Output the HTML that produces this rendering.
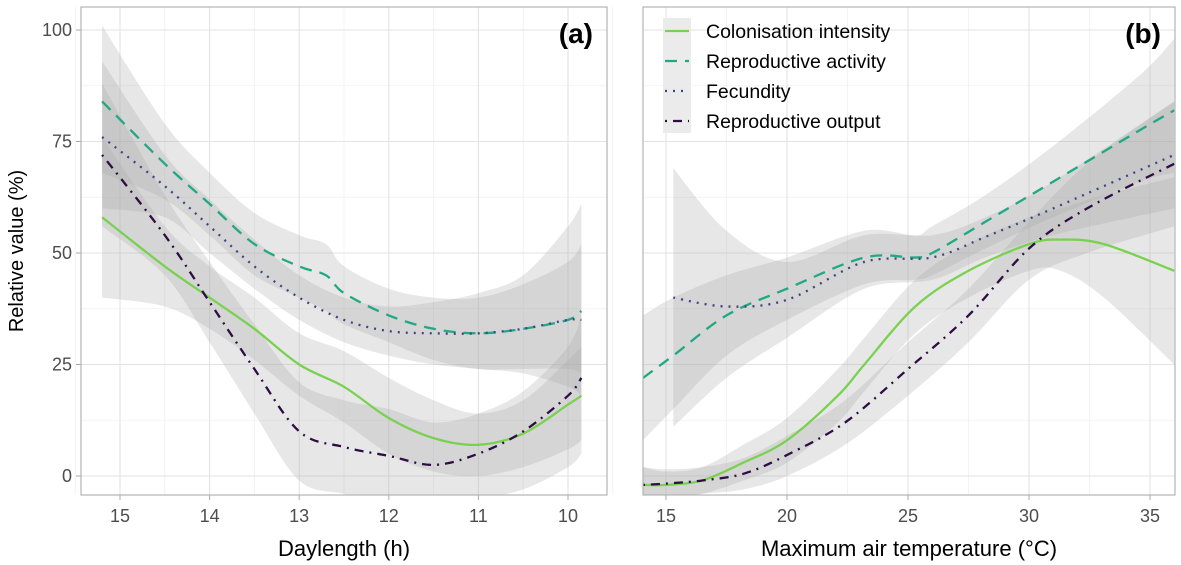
<!DOCTYPE html>
<html><head><meta charset="utf-8">
<style>
html,body{margin:0;padding:0;background:#fff;}
svg{display:block;font-family:"Liberation Sans",Arial,sans-serif;}
</style></head>
<body>
<svg id="chart" width="1181" height="565" viewBox="0 0 1181 565" xmlns="http://www.w3.org/2000/svg"></svg>
<script>
// ---- Data ----
const yTicks = [0, 25, 50, 75, 100];
const aTicks = [15, 14, 13, 12, 11, 10];
const bTicks = [15, 20, 25, 30, 35];
const seriesNames = ["Colonisation intensity", "Reproductive activity", "Fecundity", "Reproductive output"];

// Panel (a): daylength (h)
const aColX = [15.2,14.5,14,13.5,13,12.5,12,11.5,11,10.5,10,9.85];
const aColY = [58,47,40,33,25,20,13,8.5,7,9.5,16,18];
const aColLo = [40,38,33,26,18,12,5,1,0,2,6,8];
const aColHi = [76,56,47,40,32,28,22,17,14,17,26,29];
const aActX = [15.2,14.5,14,13.5,13,12.7,12.5,12,11.5,11,10.5,10,9.85];
const aActY = [84,70,61,52,47,45,41,36,33,32,33,35,37];
const aActLo = [68,62,54,45,40,37,34,30,26,24,24,24,23];
const aActHi = [101,79,68,59,54,52,47,42,40,40,43,48,52];
const aFecX = [15.2,14.5,14,13.5,13,12.5,12,11.5,11,10.5,10,9.85];
const aFecY = [76,65,56,47,40,35,32.5,32,32,33,35,35];
const aFecLo = [60,58,50,42,35,30,27,25,24,23,20,18];
const aFecHi = [93,72,62,53,45,40,38,39,41,45,56,61];
const aOutX = [15.2,14.5,14,13.5,13,12.5,12,11.5,11,10.5,10,9.85];
const aOutY = [72,54,39,24,10,6.5,4.5,2.5,5,10,18,22];
const aOutLo = [56,45,30,14,-1,-4,-6,-6,-5,-3,2,5];
const aOutHi = [88,63,48,34,21,17,15,12,14,19,29,36];

// Panel (b): max air temperature (°C)
const bColX = [14.05,15,16.5,18.2,20,22.1,23.2,25.3,27.5,30,31.3,33.1,36];
const bColY = [-2,-2,-1,3,8,18,25,38,46,52,53,52,46];
const bColLo = [-6,-5,-4,-1,3,12,19,32,40,46,46,40,25];
const bColHi = [2,1,2,7,13,24,31,44,52,58,60,63,67];
const bActX = [14.05,15.3,17.5,20,23.2,25.3,26,28.2,31,34.6,36];
const bActY = [22,27,36,42,49,49,50,57,66,77.6,82];
const bActLo = [8,15,27,35,43,44,45,51,58,66,68];
const bActHi = [36,40,45,49,55,54,56,63,74,90,98];
const bFecX = [15.3,17.5,20,23.2,26,28.2,31,36];
const bFecY = [40,38,39.5,48,49,53.6,60,72];
const bFecLo = [11,22,31,42,44,49,54,60];
const bFecHi = [69,55,48,54,54,58,66,84];
const bOutX = [14.05,15,16.5,18.2,20,22.4,25,27.5,30,32.4,36];
const bOutY = [-2,-1.7,-1,0.5,4.7,12,24,36,51,60,70];
const bOutLo = [-6,-5,-4,-3,0,7,18,30,44,50,56];
const bOutHi = [2,1.5,2,4,9,17,30,42,57,70,84];

// ---- Layout ----
const NS = "http://www.w3.org/2000/svg";
const svg = document.getElementById("chart");
const TOP = 7, BOT = 495;
const yScale = v => 476 - v * 4.46;
const panelA = {x0:81, x1:607, sx: h => 120 + (15 - h) * 89.6};
const panelB = {x0:643, x1:1175, sx: t => 666 + (t - 15) * 24.2};
const styles = [
  {c:"#7AD151", d:""},
  {c:"#22A884", d:"12 8"},
  {c:"#414487", d:"2 6"},
  {c:"#2e0d44", d:"2 6 9 6"}
];

function el(tag, attrs, parent){
  const e = document.createElementNS(NS, tag);
  for (const k in attrs) e.setAttribute(k, attrs[k]);
  (parent || svg).appendChild(e);
  return e;
}
function smoothPath(pts){
  let d = "M" + pts[0][0].toFixed(1) + "," + pts[0][1].toFixed(1);
  for (let i = 0; i < pts.length - 1; i++){
    const p0 = pts[Math.max(0,i-1)], p1 = pts[i], p2 = pts[i+1], p3 = pts[Math.min(pts.length-1,i+2)];
    const c1x = p1[0] + (p2[0]-p0[0])/6, c1y = p1[1] + (p2[1]-p0[1])/6;
    const c2x = p2[0] - (p3[0]-p1[0])/6, c2y = p2[1] - (p3[1]-p1[1])/6;
    d += " C" + c1x.toFixed(1)+","+c1y.toFixed(1)+" "+c2x.toFixed(1)+","+c2y.toFixed(1)+" "+p2[0].toFixed(1)+","+p2[1].toFixed(1);
  }
  return d;
}
function clipFor(id, p){
  const cp = el("clipPath", {id:id});
  el("rect", {x:p.x0, y:TOP, width:p.x1-p.x0, height:BOT-TOP}, cp);
}

function drawPanel(p, ticks, minorTicks, series, label, xTitle, key){
  clipFor("clip-"+key, p);
  const g = el("g", {});
  
  
  [12.5,37.5,62.5,87.5].forEach(v => {
    const l = el("line", {x1:p.x0, x2:p.x1, y1:yScale(v), y2:yScale(v), stroke:"#f0f0f0", "stroke-width":0.8}, g);
    
    
  });
  minorTicks.forEach(v => {
    const l = el("line", {x1:p.sx(v), x2:p.sx(v), y1:TOP, y2:BOT, stroke:"#f0f0f0", "stroke-width":0.8}, g);
    
    
  });
  yTicks.forEach(v => {
    const l = el("line", {x1:p.x0, x2:p.x1, y1:yScale(v), y2:yScale(v), stroke:"#e3e3e3", "stroke-width":1.1}, g);
    
    
  });
  ticks.forEach(v => {
    const l = el("line", {x1:p.sx(v), x2:p.sx(v), y1:TOP, y2:BOT, stroke:"#e3e3e3", "stroke-width":1.1}, g);
    
    
    const t = el("line", {x1:p.sx(v), x2:p.sx(v), y1:BOT, y2:BOT+5, stroke:"#aaa", "stroke-width":1}, g);
    
    
    const tx = el("text", {x:p.sx(v), y:BOT+27, "text-anchor":"middle", "font-size":"18", fill:"#4d4d4d"}, g);
    tx.textContent = v;
    
    
  });
  const cg = el("g", {"clip-path":"url(#clip-"+key+")"}, g);
  series.forEach((s, i) => {
    const up = s.x.map((x,j) => [p.sx(x), yScale(s.hi[j])]);
    const lo = s.x.map((x,j) => [p.sx(x), yScale(s.lo[j])]).reverse();
    let d = smoothPath(up) + " L" + smoothPath(lo).slice(1) + " Z";
    const r = el("path", {d:d, fill:"#a8a8a8", "fill-opacity":0.28, stroke:"none"}, cg);
    
    
  });
  series.forEach((s, i) => {
    const pts = s.x.map((x,j) => [p.sx(x), yScale(s.y[j])]);
    const attrs = {d:smoothPath(pts), fill:"none", stroke:styles[i].c, "stroke-width":2.3};
    if (styles[i].d) attrs["stroke-dasharray"] = styles[i].d;
    const l = el("path", attrs, cg);
    
    
  });
  const b = el("rect", {x:p.x0, y:TOP, width:p.x1-p.x0, height:BOT-TOP, fill:"none", stroke:"#b3b3b3", "stroke-width":1.2}, g);
  
  
  const lb = el("text", {x:p.x1-14, y:43, "text-anchor":"end", "font-size":"28", "font-weight":"bold", fill:"#000"}, g);
  lb.textContent = label;
  
  
  const xt = el("text", {x:(p.x0+p.x1)/2, y:556, "text-anchor":"middle", "font-size":"22", fill:"#000"}, g);
  xt.textContent = xTitle;
  
  
}

drawPanel(panelA, aTicks, [15.5,14.5,13.5,12.5,11.5,10.5,9.5], [
  {name:"colonisation", x:aColX, y:aColY, lo:aColLo, hi:aColHi},
  {name:"activity", x:aActX, y:aActY, lo:aActLo, hi:aActHi},
  {name:"fecundity", x:aFecX, y:aFecY, lo:aFecLo, hi:aFecHi},
  {name:"output", x:aOutX, y:aOutY, lo:aOutLo, hi:aOutHi}
], "(a)", "Daylength (h)", "a");

drawPanel(panelB, bTicks, [17.5,22.5,27.5,32.5], [
  {name:"colonisation", x:bColX, y:bColY, lo:bColLo, hi:bColHi},
  {name:"activity", x:bActX, y:bActY, lo:bActLo, hi:bActHi},
  {name:"fecundity", x:bFecX, y:bFecY, lo:bFecLo, hi:bFecHi},
  {name:"output", x:bOutX, y:bOutY, lo:bOutLo, hi:bOutHi}
], "(b)", "Maximum air temperature (°C)", "b");

yTicks.forEach(v => {
  const t = el("line", {x1:76, x2:81, y1:yScale(v), y2:yScale(v), stroke:"#aaa", "stroke-width":1});
  
  
  const tx = el("text", {x:72, y:yScale(v)+6, "text-anchor":"end", "font-size":"18", fill:"#4d4d4d"});
  tx.textContent = v;
  
  
});
const yt = el("text", {x:0, y:0, transform:"translate(23,251) rotate(-90)", "text-anchor":"middle", "font-size":"20", fill:"#000"});
yt.textContent = "Relative value (%)";



const lg = el("g", {});


const kb = el("rect", {x:663, y:18, width:28, height:115, fill:"#ebebeb"}, lg);


seriesNames.forEach((n, i) => {
  const y = 31 + i * 30;
  const attrs = {x1:665, x2:689, y1:y, y2:y, stroke:styles[i].c, "stroke-width":2.3};
  if (styles[i].d) attrs["stroke-dasharray"] = styles[i].d;
  const k = el("line", attrs, lg);
  
  
  const t = el("text", {x:706, y:y+7, "font-size":"19.5", fill:"#000"}, lg);
  t.textContent = n;
  
  
});
</script>
</body></html>
